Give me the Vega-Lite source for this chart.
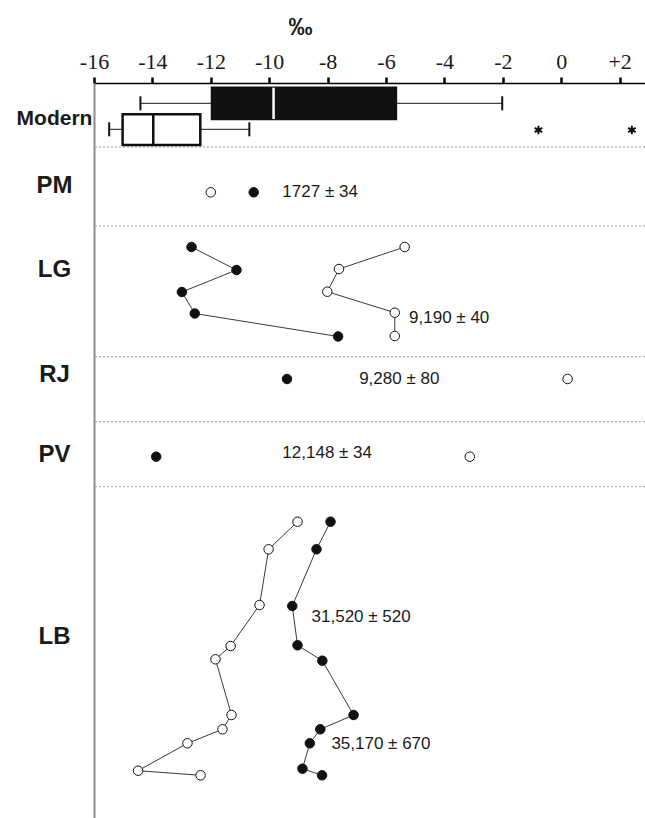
{
  "$schema": "https://vega.github.io/schema/vega-lite/v6.json",
  "autosize": {"type": "none"},
  "padding": {"left": 94, "top": 83, "right": 0, "bottom": 0},
  "width": 551,
  "height": 735,
  "background": "white",
  "config": {"view": {"stroke": null}},
  "datasets": {
    "seps": [{"level": 6.4}, {"level": 14.3}, {"level": 27.37}, {"level": 33.87}, {"level": 40.37}],
    "boxes": [
      {"series": "filled", "low": -14.41, "q1": -11.96, "med": -9.85, "q3": -5.66, "high": -2.02, "top": 0.47, "bottom": 3.6, "mid": 2.03, "capTop": 1.33, "capBot": 2.73},
      {"series": "open", "low": -15.48, "q1": -15.02, "med": -13.97, "q3": -12.36, "high": -10.68, "top": 3.13, "bottom": 6.2, "mid": 4.63, "capTop": 3.93, "capBot": 5.33}
    ],
    "outliers": [{"d": -0.78, "level": 4.7}, {"d": 2.42, "level": 4.7}],
    "pts": [
      {"site": "PM", "series": "filled", "level": 10.93, "d": -10.53},
      {"site": "PM", "series": "open", "level": 10.93, "d": -12.0},
      {"site": "LG", "series": "filled", "level": 16.4, "d": -12.66},
      {"site": "LG", "series": "filled", "level": 18.7, "d": -11.12},
      {"site": "LG", "series": "filled", "level": 20.9, "d": -12.99},
      {"site": "LG", "series": "filled", "level": 23.05, "d": -12.55},
      {"site": "LG", "series": "filled", "level": 25.35, "d": -7.64},
      {"site": "LG", "series": "open", "level": 16.4, "d": -5.36},
      {"site": "LG", "series": "open", "level": 18.6, "d": -7.61},
      {"site": "LG", "series": "open", "level": 20.87, "d": -8.01},
      {"site": "LG", "series": "open", "level": 22.97, "d": -5.7},
      {"site": "LG", "series": "open", "level": 25.3, "d": -5.7},
      {"site": "RJ", "series": "filled", "level": 29.6, "d": -9.39},
      {"site": "RJ", "series": "open", "level": 29.6, "d": 0.22},
      {"site": "PV", "series": "filled", "level": 37.37, "d": -13.87},
      {"site": "PV", "series": "open", "level": 37.37, "d": -3.13},
      {"site": "LB", "series": "filled", "level": 43.87, "d": -7.9},
      {"site": "LB", "series": "filled", "level": 46.63, "d": -8.38},
      {"site": "LB", "series": "filled", "level": 52.3, "d": -9.21},
      {"site": "LB", "series": "filled", "level": 56.23, "d": -9.03},
      {"site": "LB", "series": "filled", "level": 57.77, "d": -8.18},
      {"site": "LB", "series": "filled", "level": 63.2, "d": -7.11},
      {"site": "LB", "series": "filled", "level": 64.63, "d": -8.25},
      {"site": "LB", "series": "filled", "level": 66.03, "d": -8.61},
      {"site": "LB", "series": "filled", "level": 68.57, "d": -8.86},
      {"site": "LB", "series": "filled", "level": 69.23, "d": -8.19},
      {"site": "LB", "series": "open", "level": 43.87, "d": -9.03},
      {"site": "LB", "series": "open", "level": 46.63, "d": -10.02},
      {"site": "LB", "series": "open", "level": 52.2, "d": -10.33},
      {"site": "LB", "series": "open", "level": 56.3, "d": -11.32},
      {"site": "LB", "series": "open", "level": 57.63, "d": -11.84},
      {"site": "LB", "series": "open", "level": 63.2, "d": -11.29},
      {"site": "LB", "series": "open", "level": 64.63, "d": -11.6},
      {"site": "LB", "series": "open", "level": 66.03, "d": -12.8},
      {"site": "LB", "series": "open", "level": 68.77, "d": -14.49},
      {"site": "LB", "series": "open", "level": 69.23, "d": -12.35}
    ],
    "dates": [
      {"label": "1727 ± 34", "d": -9.55, "level": 10.93},
      {"label": "9,190 ± 40", "d": -5.21, "level": 23.47},
      {"label": "9,280 ± 80", "d": -6.92, "level": 29.6},
      {"label": "12,148 ± 34", "d": -9.55, "level": 37.03},
      {"label": "31,520 ± 520", "d": -8.55, "level": 53.4},
      {"label": "35,170 ± 670", "d": -7.87, "level": 66.1}
    ]
  },
  "layer": [
    {
      "data": {"name": "boxes"},
      "mark": {"type": "rule", "color": "#444", "strokeWidth": 1.3},
      "encoding": {
        "x": {
          "field": "low", "type": "quantitative", "title": "‰",
          "scale": {"domain": [-16, 2.87], "nice": false, "zero": false},
          "axis": {
            "orient": "top",
            "values": [-16, -15, -14, -13, -12, -11, -10, -9, -8, -7, -6, -5, -4, -3, -2, -1, 0, 1, 2],
            "labelExpr": "datum.value % 2 != 0 ? '' : (datum.value > 0 ? '+' + datum.value : '' + datum.value)",
            "grid": false, "domainColor": "#000", "domainWidth": 1.5,
            "tickColor": "#000", "tickWidth": 2.5, "tickSize": 6,
            "labelFont": "Liberation Sans Narrow", "labelFontSize": 22, "labelColor": "#1a1a1a",
            "labelPadding": 4, "labelFlush": false, "labelOverlap": false, "labelBound": false,
            "title": "‰", "titleFont": "Liberation Sans", "titleFontWeight": "bold", "titleFontSize": 24,
            "titleColor": "#1a1a1a", "titleX": 206, "titleY": -56, "titleBaseline": "middle", "titleAlign": "center", "titleAngle": 0
          }
        },
        "x2": {"field": "high"},
        "y": {
          "field": "mid", "type": "quantitative", "title": "",
          "scale": {"domain": [0, 73.5], "reverse": true, "nice": false, "zero": false},
          "axis": {
            "values": [3.57, 10.25, 18.6, 29.1, 37.1, 55.3],
            "labelExpr": "datum.value == 3.57 ? 'Modern' : datum.value == 10.25 ? 'PM' : datum.value == 18.6 ? 'LG' : datum.value == 29.1 ? 'RJ' : datum.value == 37.1 ? 'PV' : 'LB'",
            "title": "", "grid": false, "ticks": false, "tickSize": 0,
            "domainColor": "#8c8c8c", "domainWidth": 2,
            "labelFont": "Liberation Sans", "labelFontWeight": "bold",
            "labelFontSize": {"condition": {"test": "datum.value == 3.57", "value": 21}, "value": 24},
            "labelColor": "#1a1a1a", "labelAlign": "center", "labelBaseline": "middle",
            "labelPadding": 40, "labelOverlap": false, "labelFlush": false, "labelBound": false
          }
        }
      }
    },
    {
      "data": {"name": "seps"},
      "mark": {"type": "rule", "color": "#9a9a9a", "strokeWidth": 1, "strokeDash": [2, 2]},
      "encoding": {
        "y": {"field": "level", "type": "quantitative", "title": ""}
      }
    },
    {
      "data": {"name": "boxes"},
      "mark": {"type": "rule", "color": "#111", "strokeWidth": 2},
      "encoding": {
        "x": {"field": "low", "type": "quantitative", "title": "‰"},
        "y": {"field": "capTop", "type": "quantitative", "title": ""},
        "y2": {"field": "capBot"}
      }
    },
    {
      "data": {"name": "boxes"},
      "mark": {"type": "rule", "color": "#111", "strokeWidth": 2},
      "encoding": {
        "x": {"field": "high", "type": "quantitative", "title": "‰"},
        "y": {"field": "capTop", "type": "quantitative", "title": ""},
        "y2": {"field": "capBot"}
      }
    },
    {
      "data": {"name": "boxes"},
      "mark": {"type": "bar", "stroke": "#111", "strokeWidth": 2.5},
      "encoding": {
        "x": {"field": "q1", "type": "quantitative", "title": "‰"},
        "x2": {"field": "q3"},
        "y": {"field": "top", "type": "quantitative", "title": ""},
        "y2": {"field": "bottom"},
        "fill": {"field": "series", "type": "nominal", "scale": {"domain": ["filled", "open"], "range": ["#111111", "#ffffff"]}, "legend": null}
      }
    },
    {
      "data": {"name": "boxes"},
      "mark": {"type": "rule", "strokeWidth": 2.5},
      "encoding": {
        "x": {"field": "med", "type": "quantitative", "title": "‰"},
        "y": {"field": "top", "type": "quantitative", "title": ""},
        "y2": {"field": "bottom"},
        "color": {"field": "series", "type": "nominal", "scale": {"domain": ["filled", "open"], "range": ["#ffffff", "#111111"]}, "legend": null}
      }
    },
    {
      "data": {"name": "outliers"},
      "mark": {"type": "point", "shape": "M0,-1L0,1M-0.87,-0.5L0.87,0.5M-0.87,0.5L0.87,-0.5", "stroke": "#111", "strokeWidth": 2, "size": 75, "filled": false, "opacity": 1},
      "encoding": {
        "x": {"field": "d", "type": "quantitative", "title": "‰"},
        "y": {"field": "level", "type": "quantitative", "title": ""}
      }
    },
    {
      "data": {"name": "pts"},
      "mark": {"type": "line", "color": "#3a3a3a", "strokeWidth": 1},
      "encoding": {
        "x": {"field": "d", "type": "quantitative", "title": "‰"},
        "y": {"field": "level", "type": "quantitative", "title": ""},
        "detail": [{"field": "site"}, {"field": "series"}],
        "order": {"field": "level", "type": "quantitative"}
      }
    },
    {
      "data": {"name": "pts"},
      "mark": {"type": "circle", "size": 90, "stroke": "#111", "strokeWidth": 1, "opacity": 1},
      "encoding": {
        "x": {"field": "d", "type": "quantitative", "title": "‰"},
        "y": {"field": "level", "type": "quantitative", "title": ""},
        "fill": {"field": "series", "type": "nominal", "scale": {"domain": ["filled", "open"], "range": ["#111111", "#ffffff"]}, "legend": null}
      }
    },
    {
      "data": {"name": "dates"},
      "mark": {"type": "text", "align": "left", "baseline": "middle", "font": "Liberation Sans", "fontSize": 17, "color": "#1a1a1a"},
      "encoding": {
        "x": {"field": "d", "type": "quantitative", "title": "‰"},
        "y": {"field": "level", "type": "quantitative", "title": ""},
        "text": {"field": "label"}
      }
    }
  ]
}
